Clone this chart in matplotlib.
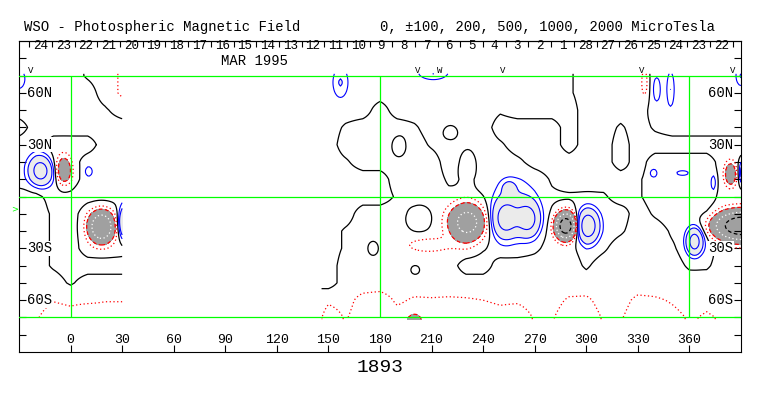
import numpy as np
import matplotlib
matplotlib.use("Agg")
import matplotlib.pyplot as plt

# weak background polarity on a 10 deg grid, rows lat 70..-40, cols lon -30..390
# '-' weak negative, '+' weak positive, m/p close to zero, r above +100, '.' no data
bg_codes = {"-": -40, "+": 40, "m": -12, "p": 12, "r": 120, ".": 0}
bg_rows = [
    "----p+r" + "..........." + "--------------m++++------",  # 70
    "-----+r" + "..........." + "--------------m++++------",  # 60
    "-----m+" + "..........." + "---+------m----++++------",  # 50
    "+------" + "..........." + "-p+++p----++++-++m+m-----",  # 40
    "--+++--" + "..........." + "-+++++m---m+++-++-+++++++",  # 30
    "--++---" + "..........." + "-m+++++----m+++++-+----++",  # 20
    "---+---" + "..........." + "----+++m-----p++++p----++",  # 10
    "++-----" + "..........." + "----p++ppm---mmmm+p----++",  # 0
    "++m-+++" + "..........." + "--+++++++m---p+---+m---++",  # -10
    "++m-+++" + "..........." + "-p+++++++m---++--m++m--++",  # -20
    "++m-+++" + "..........." + "-p+++++++m--m++-m+++p--++",  # -30
    "++m----" + "..........." + "-+++++++--+++++m+++++mm++",  # -40
]
# south polar field (microTesla) at lat -50, -60, -70
south_50 = [40, 40, 40, -12, 40, 40, 40] + [0] * 11 + [-40] + [40] * 24
south_60 = [60, 60, 95, 80, 80, 95, 95] + [0] * 11 + [
    80, 60, 140, 160, 80, 115, 110, 115, 110, 100, 85, 85, 60,
    60, 115, 120, 60, 60, 126, 115, 90, 60, 80, 60, 60]
south_70 = [90, 90, 150, 137, 180, 150, 150] + [0] * 11 + [
    160, 90, 160, 160, 147, 160, 160, 160, 160, 150, 135, 160, 90,
    90, 160, 160, 90, 90, 160, 160, 130, 90, 110, 90, 90]

# concentrated flux: centre lon, lat, peak (microTesla), widths (deg)
spot_lon = [-17.4, -4, 18, 33, 10.5, -30, 231, 208, 253, 266, 255, 258,
            288, 301, 363, 391, 384, 393, 374, 339, 356,
            157, 211, 341, 349, 390, 334, 200,
            191, 203, 176, 200.5, 221, 231]
spot_lat = [15, 15, -17.5, -15, 14.5, 68, -15, -28, -13, -13, 5, -3,
            -17, -17, -26, -17, 13, 14, 8, 13.5, 13.6,
            66, 72, 62, 62, 70, 66, -72,
            29, -13, -30, -42.5, 37, 17]
spot_amp = [-700, 380, 950, -900, -150, -150, 650, 130, -650, -650, -230, -150,
            1500, -800, -700, 1600, 380, -600, -150, -140, -140,
            -170, -170, -150, -160, -170, 150, 300,
            -90, -90, -90, -90, 90, 90]
spot_wlon = [4.3, 3.0, 4.6, 3, 1.5, 2.5, 7.1, 9, 5, 4.5, 2.5, 8,
             3.5, 3.9, 3, 10, 2.3, 2.5, 1.2, 1.6, 2.6,
             3, 6, 1.5, 1.5, 2, 1.5, 2,
             3.2, 6.3, 2.4, 2, 3.2, 4]
spot_wlat = [5.3, 5.5, 5.6, 6, 2, 4, 7.1, 3, 7, 6.5, 2.5, 10,
             4.5, 5.9, 4.8, 5, 4.5, 5, 4, 1.8, 1.0,
             6, 3, 5, 7, 4, 7, 2,
             4.7, 6.3, 3.2, 2, 3.2, 8]

day_labels = ["24", "23", "22", "21", "20", "19", "18", "17", "16", "15", "14",
              "13", "12", "11", "10", "9", "8", "7", "6", "5", "4", "3", "2",
              "1", "28", "27", "26", "25", "24", "23", "22"]
obs_lon = [-23.2, 202, 215, 251.5, 332, 385]
obs_mark = ["V", "V", "W", "V", "V", "V"]
lon_ticks = list(range(0, 361, 30))
lat_labels = {60: "60N", 30: "30N", -30: "30S", -60: "60S"}

# ---- build field
grid_lon = np.arange(-30, 391, 10)
grid_lat = np.arange(70, -71, -10)
bg = np.array([[bg_codes[c] for c in r] for r in bg_rows] + [south_50, south_60, south_70], dtype=float)

lon = np.arange(-30, 390.5, 1.0)
lat = np.arange(-71, 71.5, 1.0)
tmp = np.array([np.interp(lon, grid_lon, r) for r in bg])
field = np.array([np.interp(lat, grid_lat[::-1], tmp[::-1, j]) for j in range(len(lon))]).T
LON, LAT = np.meshgrid(lon, lat)
for x0, y0, a, sx, sy in zip(spot_lon, spot_lat, spot_amp, spot_wlon, spot_wlat):
    field += a * np.exp(-((LON - x0) ** 2 / (2 * sx ** 2) + (LAT - y0) ** 2 / (2 * sy ** 2)))
field[:, (lon > 30) & (lon < 146)] = np.nan

mono = "Liberation Mono"
green = "#00ff00"

fig = plt.figure(figsize=(7.63, 3.96), dpi=100)
ax = fig.add_axes([19 / 763, 44 / 396, 722 / 763, 311 / 396])
ax.set_xlim(-30, 390)
ax.set_ylim(-90, 90)

ax.contourf(LON, LAT, field, levels=[200, 1e5], colors=["#a0a0a0"])
ax.contourf(LON, LAT, field, levels=[-1e5, -200], colors=["#ebebeb"])
ax.contour(LON, LAT, field, levels=[0], colors="black", linewidths=0.9)
ax.contour(LON, LAT, field, levels=[-1000, -500, -200, -100], colors="blue",
           linewidths=0.8, linestyles="solid")
ax.contour(LON, LAT, field, levels=[100], colors="red", linewidths=0.9, linestyles=[(0, (1, 2))])
ax.contour(LON, LAT, field, levels=[200], colors="red", linewidths=0.9, linestyles=[(0, (3, 2))])
ax.contour(LON, LAT, field, levels=[500], colors="white", linewidths=0.9, linestyles=[(0, (1, 2))])
ax.contour(LON, LAT, field, levels=[1000], colors="black", linewidths=0.9, linestyles=[(0, (3, 2))])

for y in (70, 0, -70):
    ax.axhline(y, color=green, lw=0.9, zorder=5)
ax.vlines([0, 180, 360], -70, 70, color=green, lw=0.9, zorder=5)

for s in ax.spines.values():
    s.set_linewidth(0.8)
ax.set_xticks(lon_ticks)
ax.set_yticks(np.arange(-80, 81, 10))
ax.tick_params(axis="x", direction="in", length=5, width=0.8, top=False, labelbottom=False)
ax.tick_params(axis="y", direction="in", length=5, width=0.8, left=True, right=True,
               labelleft=False)
for t in lon_ticks:
    ax.text(t, -84.8, str(t), ha="center", va="baseline", fontsize=9.5, family=mono)

day_step = 360 / 27.2753
day_ticks = -24.0 + day_step * np.arange(len(day_labels) + 1)
top = ax.secondary_xaxis("top")
top.set_xticks(day_ticks)
top.tick_params(direction="in", length=4.3, width=0.8, labeltop=False)
for k, lab in enumerate(day_labels):
    ax.text(day_ticks[k] + day_step / 2, 85.6, lab, ha="center", va="baseline",
            fontsize=9, family=mono)
ax.text(107, 76.1, "MAR 1995", ha="center", va="baseline", fontsize=10, family=mono)

for x, m in zip(obs_lon, obs_mark):
    ax.text(x, 70.3, m, ha="center", va="bottom", fontsize=6.5, family=mono)

box = dict(facecolor="white", edgecolor="none", pad=0.3)
for y, lab in lat_labels.items():
    ax.text(-25.3, y, lab, ha="left", va="center", fontsize=10, family=mono, bbox=box, zorder=6)
    ax.text(385.5, y, lab, ha="right", va="center", fontsize=10, family=mono, bbox=box, zorder=6)
ax.text(-30.5, -7, ">", color=green, ha="right", va="center", fontsize=6, clip_on=False)

fig.text(24 / 763, 1 - 31.5 / 396, "WSO - Photospheric Magnetic Field",
         ha="left", va="baseline", fontsize=10, family=mono)
fig.text(380 / 763, 1 - 31.5 / 396, "0, \u00b1100, 200, 500, 1000, 2000 MicroTesla",
         ha="left", va="baseline", fontsize=10, family=mono)
fig.text(380 / 763, 1 - 372 / 396, "1893", ha="center", va="baseline", fontsize=14, family=mono)

fig.savefig("out.png", dpi=100)
